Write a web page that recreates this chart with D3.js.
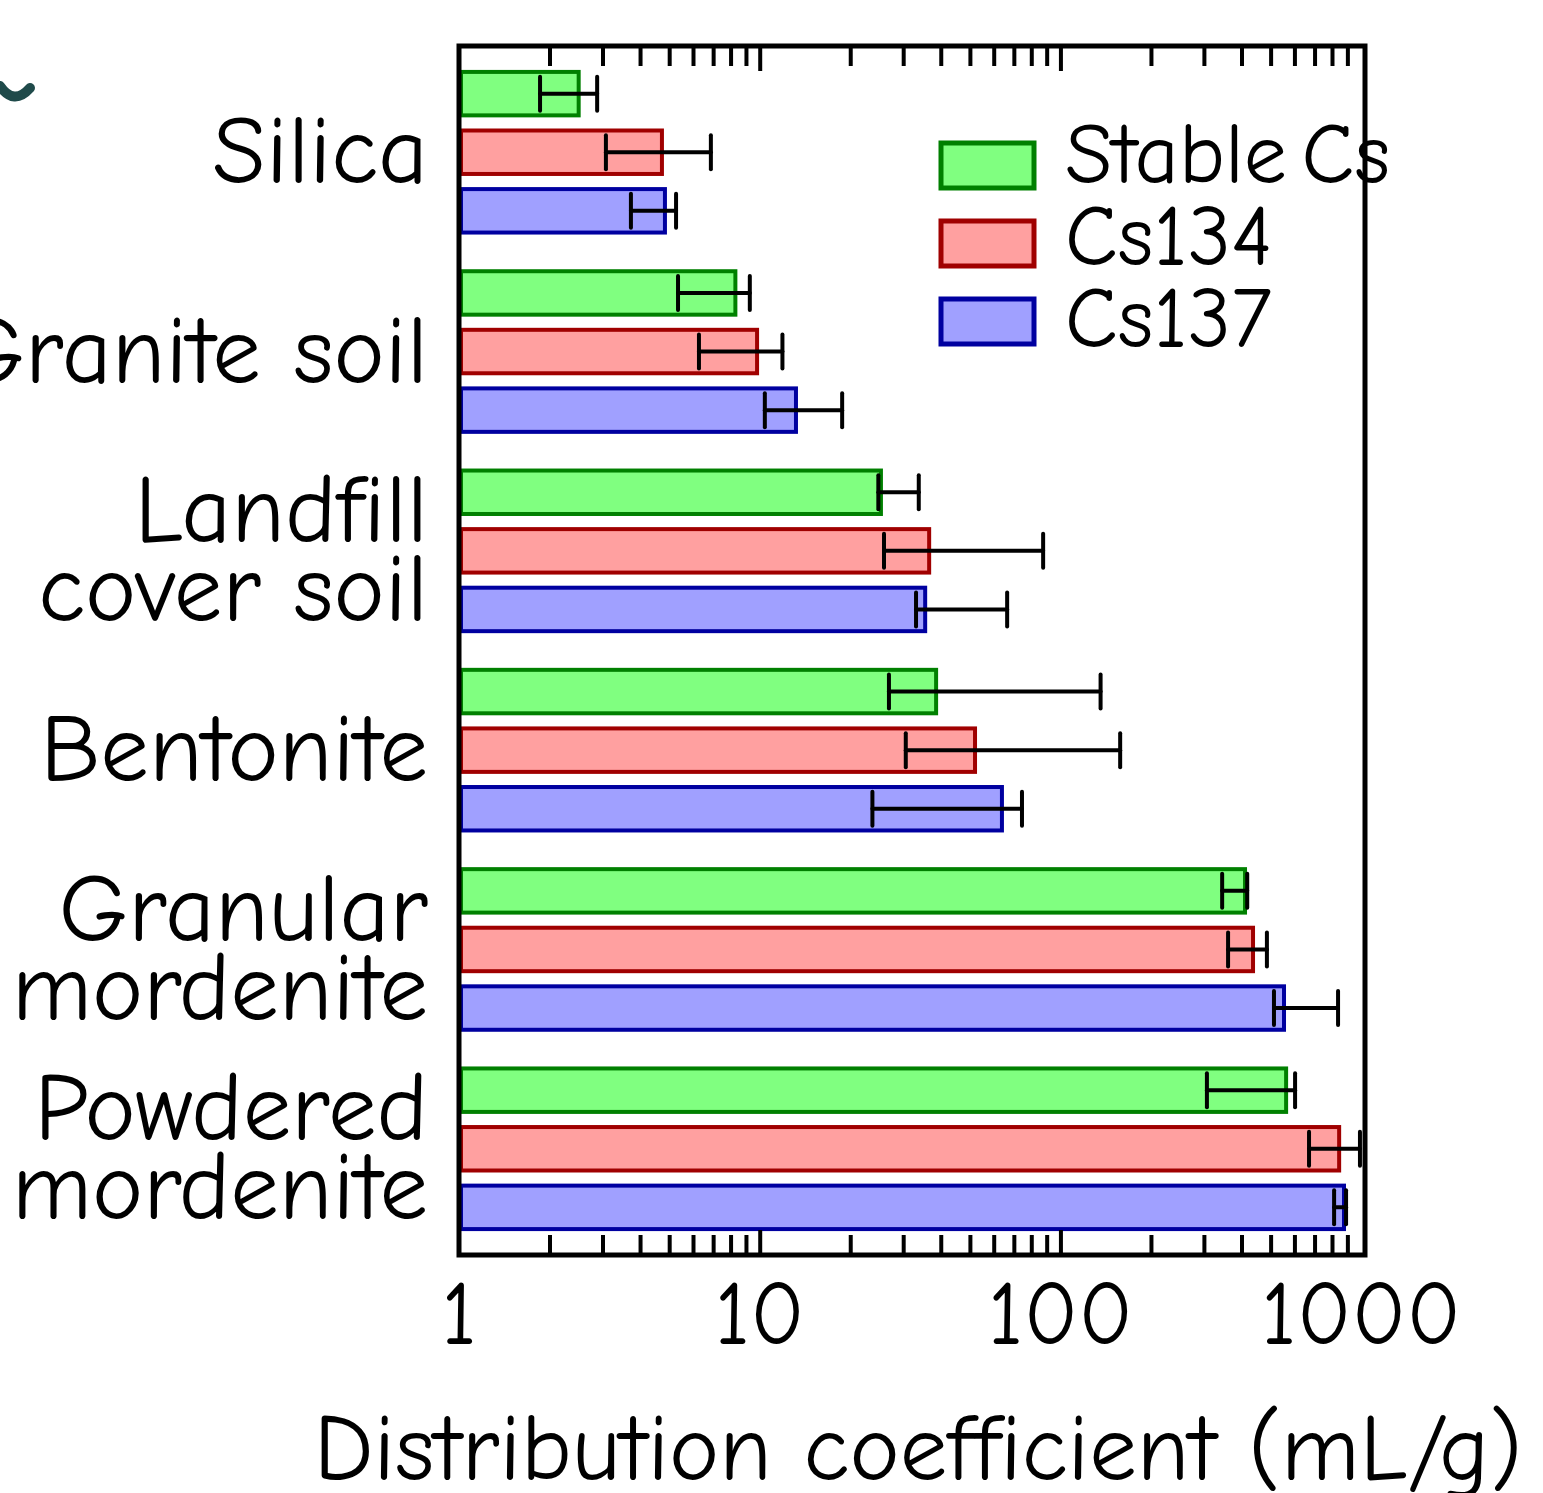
<!DOCTYPE html>
<html>
<head>
<meta charset="utf-8">
<script src="https://cdn.jsdelivr.net/npm/d3@7"></script>
<style>
	body { margin: 0; background: #fff; }
	text { font-family: 'Comic Sans MS', 'Comic Neue', 'Noto Sans', sans-serif; fill: #000; }
</style>
</head>
<body>
<div id="chart"></div>
<script>
const categories = ['Silica', 'Granite soil', 'Landfill\ncover soil', 'Bentonite', 'Granular\nmordenite', 'Powdered\nmordenite']
const seriesNames = ['Stable Cs', 'Cs134', 'Cs137']

// bar value, then low / high end of the error bar (mL/g)
const stableCs = [2.5, 8.3, 25.3, 38.6, 411, 563]
const stableCsLow = [1.86, 5.35, 24.8, 26.9, 345, 307]
const stableCsHigh = [2.88, 9.27, 33.8, 136, 418, 603]

const cs134 = [4.73, 9.8, 36.6, 52.0, 437, 845]
const cs134Low = [3.08, 6.28, 25.9, 30.6, 361, 671]
const cs134High = [6.88, 11.9, 87.6, 158, 486, 991]

const cs137 = [4.84, 13.2, 35.5, 63.9, 554, 877]
const cs137Low = [3.73, 10.4, 33.1, 23.7, 513, 813]
const cs137High = [5.27, 18.8, 66.5, 74.5, 838, 891]

const xTickLabels = [1, 10, 100, 1000]

const fills = ['#80ff80', '#ffa0a0', '#a0a0ff']
const strokes = ['#008000', '#a00000', '#0000a0']

let width = 1543
let height = 1493
let plotLeft = 459, plotRight = 1365, plotTop = 46, plotBottom = 1255

let svg = d3.select('#chart')
	.append('svg')
	.attr('width', width)
	.attr('height', height)

let x = d3.scaleLog()
	.domain([1, 1030])
	.range([plotLeft, plotRight])

let y = d3.scaleBand()
	.domain(d3.range(categories.length))
	.range([plotTop, plotBottom])
	.paddingInner(0.174)
	.paddingOuter(0.12)

let ySub = d3.scaleBand()
	.domain(d3.range(seriesNames.length))
	.range([0, y.bandwidth()])
	.paddingInner(0.19)

let values = [stableCs, cs134, cs137]
let lows = [stableCsLow, cs134Low, cs137Low]
let highs = [stableCsHigh, cs134High, cs137High]

let rows = []
categories.forEach((c, i) => {
	seriesNames.forEach((s, j) => {
		rows.push({ cat: i, s: j, v: values[j][i], lo: lows[j][i], hi: highs[j][i] })
	})
})

// little cut-off glyph in the top left corner
svg.append('path')
	.attr('d', 'M0,86 Q14,106 30,88')
	.attr('fill', 'none')
	.attr('stroke', '#1f4a4a')
	.attr('stroke-width', 10)
	.attr('stroke-linecap', 'round')

let bars = svg.append('g')
bars.selectAll('rect')
	.data(rows)
	.enter()
	.append('rect')
	.attr('x', x(1) + 2)
	.attr('y', d => y(d.cat) + ySub(d.s) + 2)
	.attr('width', d => x(d.v) - x(1) - 2)
	.attr('height', ySub.bandwidth() - 4)
	.attr('fill', d => fills[d.s])
	.attr('stroke', d => strokes[d.s])
	.attr('stroke-width', 4)

let errs = svg.append('g')
	.attr('stroke', '#000')
	.attr('stroke-width', 4)
	.attr('stroke-linecap', 'round')
	.attr('fill', 'none')

rows.forEach(d => {
	let cy = y(d.cat) + ySub(d.s) + ySub.bandwidth() / 2
	errs.append('line')
		.attr('x1', x(d.lo)).attr('x2', x(d.hi))
		.attr('y1', cy).attr('y2', cy)
	;[d.lo, d.hi].forEach(v => {
		errs.append('line')
			.attr('x1', x(v)).attr('x2', x(v))
			.attr('y1', cy - 17).attr('y2', cy + 17)
	})
})

// ticks inside the frame, top and bottom
let minor = x.ticks().filter(t => t > 1 && t < 1000)
let isMajor = t => Math.abs(Math.log10(t) - Math.round(Math.log10(t))) < 1e-9

let topAxis = svg.append('g')
	.attr('transform', `translate(0,${plotTop})`)
	.call(d3.axisTop(x).tickValues(minor).tickSize(-20).tickFormat(''))
let bottomAxis = svg.append('g')
	.attr('transform', `translate(0,${plotBottom})`)
	.call(d3.axisBottom(x).tickValues(minor).tickSize(-20).tickFormat(''))

;[topAxis, bottomAxis].forEach(g => {
	g.select('.domain').remove()
	g.selectAll('.tick line')
		.attr('stroke', '#000')
		.attr('stroke-width', 4)
		.attr('y2', d => (isMajor(d) ? 25 : 20) * (g === topAxis ? 1 : -1))
})

svg.append('rect')
	.attr('x', plotLeft)
	.attr('y', plotTop)
	.attr('width', plotRight - plotLeft)
	.attr('height', plotBottom - plotTop)
	.attr('fill', 'none')
	.attr('stroke', '#000')
	.attr('stroke-width', 5)

svg.append('g')
	.selectAll('text')
	.data(xTickLabels)
	.enter()
	.append('text')
	.attr('x', d => x(d))
	.attr('y', 1344)
	.attr('text-anchor', 'middle')
	.attr('font-size', 90)
	.text(d => d)

svg.append('text')
	.attr('x', 918)
	.attr('y', 1480)
	.attr('text-anchor', 'middle')
	.attr('font-size', 95)
	.text('Distribution coefficient (mL/g)')

// category labels, right aligned against the frame
let catText = svg.append('g')
	.selectAll('text')
	.data(categories)
	.enter()
	.append('text')
	.attr('text-anchor', 'end')
	.attr('font-size', 97)

catText.each(function(d, i) {
	let lines = d.split('\n')
	let cy = y(i) + y.bandwidth() / 2 + 31 - (lines.length - 1) * 79 / 2
	lines.forEach((l, k) => {
		d3.select(this).append('tspan')
			.attr('x', 428)
			.attr('y', cy + k * 79)
			.text(l)
	})
})

// legend
let legend = svg.append('g')
	.selectAll('g')
	.data(seriesNames)
	.enter()
	.append('g')
	.attr('transform', (d, i) => `translate(941,${143 + i * 78})`)

legend.append('rect')
	.attr('width', 93)
	.attr('height', 45)
	.attr('fill', (d, i) => fills[i])
	.attr('stroke', (d, i) => strokes[i])
	.attr('stroke-width', 5)

legend.append('text')
	.attr('x', 124)
	.attr('y', (d, i) => 40 + i * 4)
	.attr('font-size', 86)
	.attr('word-spacing', -14)
	.text(d => d)
</script>
</body>
</html>
